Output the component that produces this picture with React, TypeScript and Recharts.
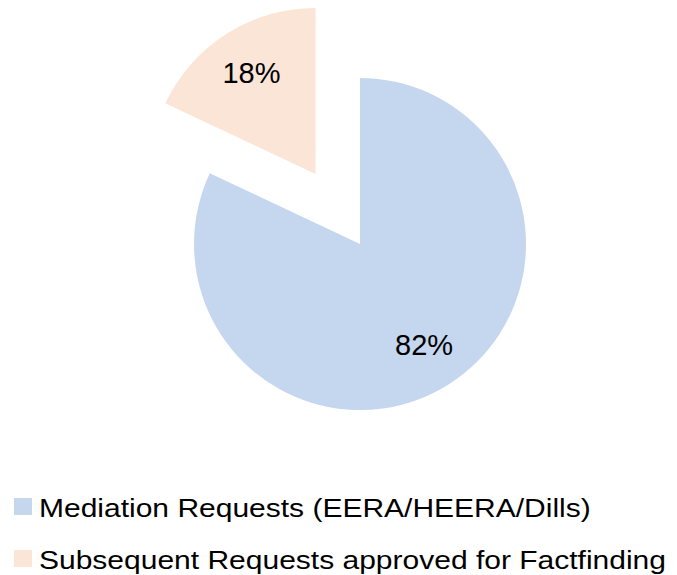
import React from 'react';
import { Cell, Pie, PieChart } from 'recharts';

const categories = ['Mediation Requests (EERA/HEERA/Dills)', 'Subsequent Requests approved for Factfinding'];
const values = [82, 18];
const colors = ['#C5D7EF', '#FBE5D6'];

const WIDTH = 677;
const HEIGHT = 575;
const CX = 360;
const CY = 244;
const RADIUS = 166;
const EXPLODE = 83;
const EXPLODED_INDEX = 1;
const RADIAN = Math.PI / 180;

const chartData = categories.map((name, i) => ({ name, value: values[i] }));

// mid angle of the exploded slice, recharts convention (startAngle 90, clockwise)
const total = values.reduce((a, b) => a + b, 0);
const before = values.slice(0, EXPLODED_INDEX).reduce((a, b) => a + b, 0);
const explodedMid = 90 - 360 * ((before + values[EXPLODED_INDEX] / 2) / total);
const explodedCx = CX + Math.cos(-explodedMid * RADIAN) * EXPLODE;
const explodedCy = CY + Math.sin(-explodedMid * RADIAN) * EXPLODE;

const makeLabel = (show: (index: number) => boolean) => (props: any) => {
  const { cx, cy, midAngle, outerRadius, index, percent } = props;
  if (!show(index)) {
    return null;
  }
  const r = outerRadius * 0.72;
  const x = cx + r * Math.cos(-midAngle * RADIAN);
  const y = cy + r * Math.sin(-midAngle * RADIAN);
  return (
    <text
      x={x}
      y={y}
      textAnchor="middle"
      dominantBaseline="central"
      fill="#000"
      style={{ fontFamily: '"Liberation Sans", Arial, sans-serif', fontSize: 29 }}
    >
      {`${Math.round(percent * 100)}%`}
    </text>
  );
};

const LegendBlock = () => (
  <svg width={WIDTH} height={95} style={{ position: 'absolute', left: 0, top: 480 }}>
    {categories.map((name, i) => {
      const rowTop = 18 + i * 52;
      return (
        <g key={name}>
          <rect x={14} y={rowTop} width={18} height={17} fill={colors[i]} />
          <text
            x={39}
            y={rowTop + 19}
            fill="#000"
            transform="translate(39 0) scale(1.2 1) translate(-39 0)"
            style={{ fontFamily: '"Liberation Sans", Arial, sans-serif', fontSize: 25 }}
          >
            {name}
          </text>
        </g>
      );
    })}
  </svg>
);

export default function App() {
  return (
    <div style={{ position: 'absolute', left: 0, top: 0, width: WIDTH, height: HEIGHT, background: '#fff' }}>
      <PieChart width={WIDTH} height={HEIGHT} margin={{ top: 0, right: 0, bottom: 0, left: 0 }}>
        <Pie
          data={chartData}
          dataKey="value"
          nameKey="name"
          cx={CX}
          cy={CY}
          outerRadius={RADIUS}
          startAngle={90}
          endAngle={-270}
          stroke="none"
          labelLine={false}
          legendType="none"
          isAnimationActive={false}
          label={makeLabel(i => i !== EXPLODED_INDEX)}
        >
          {chartData.map((d, i) => (
            <Cell key={d.name} fill={i === EXPLODED_INDEX ? 'none' : colors[i]} />
          ))}
        </Pie>
        <Pie
          data={chartData}
          dataKey="value"
          nameKey="name"
          cx={explodedCx}
          cy={explodedCy}
          outerRadius={RADIUS}
          startAngle={90}
          endAngle={-270}
          stroke="none"
          labelLine={false}
          legendType="none"
          isAnimationActive={false}
          label={makeLabel(i => i === EXPLODED_INDEX)}
        >
          {chartData.map((d, i) => (
            <Cell key={d.name} fill={i === EXPLODED_INDEX ? colors[i] : 'none'} />
          ))}
        </Pie>
      </PieChart>
      <LegendBlock />
    </div>
  );
}
